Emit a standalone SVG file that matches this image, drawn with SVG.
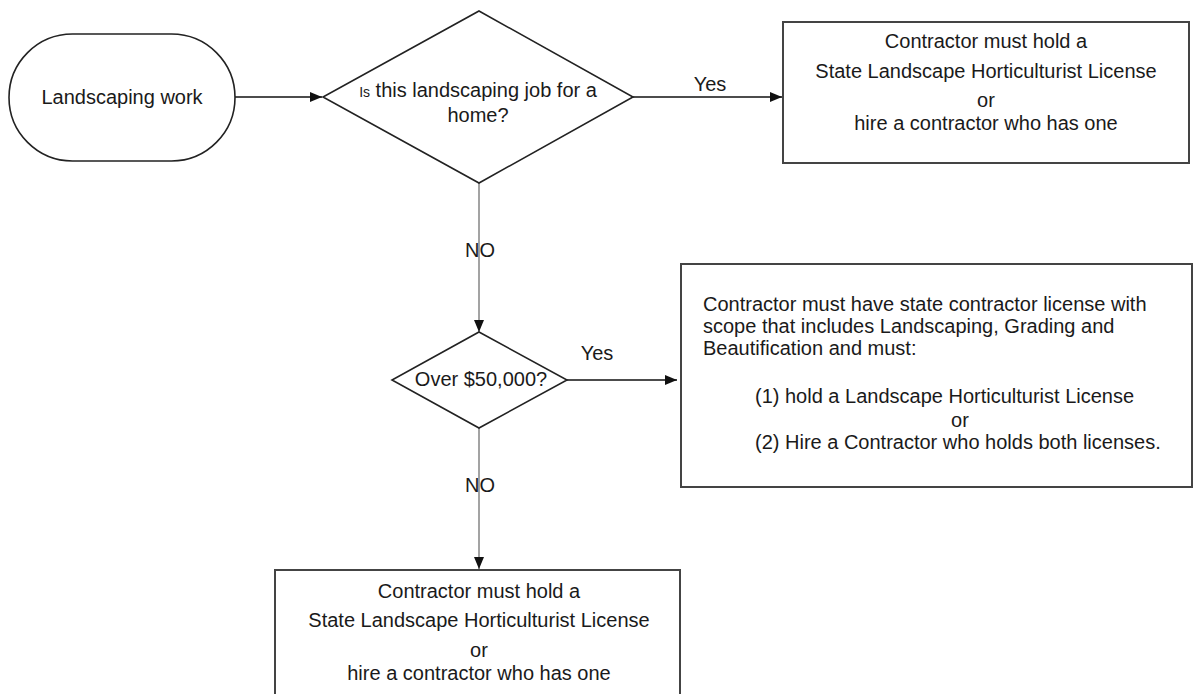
<svg xmlns="http://www.w3.org/2000/svg" width="1193" height="694" viewBox="0 0 1193 694">
  <style>
    text { font-family: "Liberation Sans", Arial, sans-serif; font-size: 20px; fill: #1a1a1a; }
    .c { text-anchor: middle; }
    .shape { fill: #ffffff; stroke: #222222; stroke-width: 1.6; }
    .box { fill: #ffffff; stroke: #444444; stroke-width: 2; }
    .h { fill: none; stroke: #111111; stroke-width: 1.6; }
    .v { fill: none; stroke: #666666; stroke-width: 1.2; }
  </style>
  <defs>
    <marker id="arrow" markerUnits="userSpaceOnUse" markerWidth="12" markerHeight="10" refX="12" refY="5" orient="auto">
      <path d="M0,0 L12,5 L0,10 z" fill="#111111"/>
    </marker>
  </defs>
  <rect width="1193" height="694" fill="#ffffff"/>

  <g id="connectors">
    <line class="h" x1="235" y1="97" x2="322" y2="97" marker-end="url(#arrow)"/>
    <line class="h" x1="633" y1="97" x2="782" y2="97" marker-end="url(#arrow)"/>
    <line class="v" x1="479" y1="183" x2="479" y2="332" marker-end="url(#arrow)"/>
    <line class="h" x1="567" y1="380" x2="677" y2="380" marker-end="url(#arrow)"/>
    <line class="v" x1="479" y1="428" x2="479" y2="569" marker-end="url(#arrow)"/>
    <text id="label-yes-1" class="c" x="710" y="91">Yes</text>
    <text id="label-no-1" class="c" x="480" y="257">NO</text>
    <text id="label-yes-2" class="c" x="597" y="360">Yes</text>
    <text id="label-no-2" class="c" x="480" y="492">NO</text>
  </g>

  <g id="start">
    <rect class="shape" x="9" y="34" width="226" height="127" rx="63.5" ry="63.5"/>
    <text class="c" x="122" y="104">Landscaping work</text>
  </g>

  <g id="decision-home">
    <polygon class="shape" points="479,11 633,97 479,183 323,97"/>
    <text class="c" x="478" y="97"><tspan font-size="14">Is</tspan> this landscaping job for a</text>
    <text class="c" x="478" y="122">home?</text>
  </g>

  <g id="result-home">
    <rect class="box" x="783" y="22" width="406" height="141"/>
    <text class="c" x="986" y="48">Contractor must hold a</text>
    <text class="c" x="986" y="78">State Landscape Horticulturist License</text>
    <text class="c" x="986" y="107">or</text>
    <text class="c" x="986" y="130">hire a contractor who has one</text>
  </g>

  <g id="decision-amount">
    <polygon class="shape" points="479,332 567,380 479,428 392,380"/>
    <text class="c" x="481" y="386">Over $50,000?</text>
  </g>

  <g id="result-over">
    <rect class="box" x="681" y="264" width="511" height="223"/>
    <text x="703" y="311">Contractor must have state contractor license with</text>
    <text x="703" y="333">scope that includes Landscaping, Grading and</text>
    <text x="703" y="355">Beautification and must:</text>
    <text x="755" y="403">(1) hold a Landscape Horticulturist License</text>
    <text class="c" x="960" y="427">or</text>
    <text x="755" y="449">(2) Hire a Contractor who holds both licenses.</text>
  </g>

  <g id="result-under">
    <rect class="box" x="275" y="570" width="405" height="140"/>
    <text class="c" x="479" y="598">Contractor must hold a</text>
    <text class="c" x="479" y="627">State Landscape Horticulturist License</text>
    <text class="c" x="479" y="657">or</text>
    <text class="c" x="479" y="680">hire a contractor who has one</text>
  </g>
</svg>
